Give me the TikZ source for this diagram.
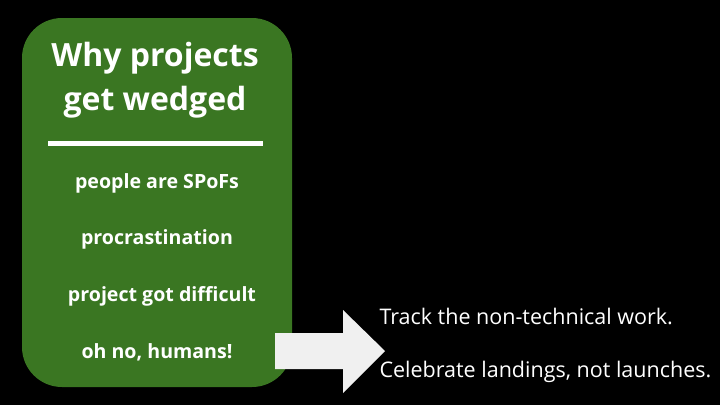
\documentclass[tikz,border=0pt]{standalone}
\usepackage{fontspec}
\setmainfont{Open Sans}
\definecolor{boxgreen}{RGB}{58,118,34}
\definecolor{arrowgray}{RGB}{240,240,240}
\begin{document}
\begin{tikzpicture}[x=1pt,y=-1pt,
  item/.style={text=white,font=\fontsize{19.6}{22}\selectfont\bfseries,anchor=center},
  side/.style={text=white,font=\fontsize{21.5}{24}\selectfont,anchor=west}]
\fill[black] (0,0) rectangle (720,405);
\useasboundingbox (0,0) rectangle (720,405);
\fill[boxgreen,rounded corners=40pt] (22,18) rectangle (292,387);
\node[text=white,font=\fontsize{32}{44}\selectfont\bfseries,align=center] (title) at (155,80) {Why projects\\get wedged};
\draw[white,line width=5pt] (48,143) -- (263,143);
\node[item] (a) at (157,183) {people are SPoFs};
\node[item] (b) at (157,239) {procrastination};
\node[item] (c) at (162,296) {project got difficult};
\node[item] (d) at (157,352) {oh no, humans!};
\fill[arrowgray] (275,333) -- (343,333) -- (343,310) -- (385,351) -- (343,393) -- (343,369) -- (275,369) -- cycle;
\node[side] (t1) at (376,316) {Track the non-technical work.};
\node[side] (t2) at (376,372) {Celebrate landings, not launches.};
\end{tikzpicture}
\end{document}
